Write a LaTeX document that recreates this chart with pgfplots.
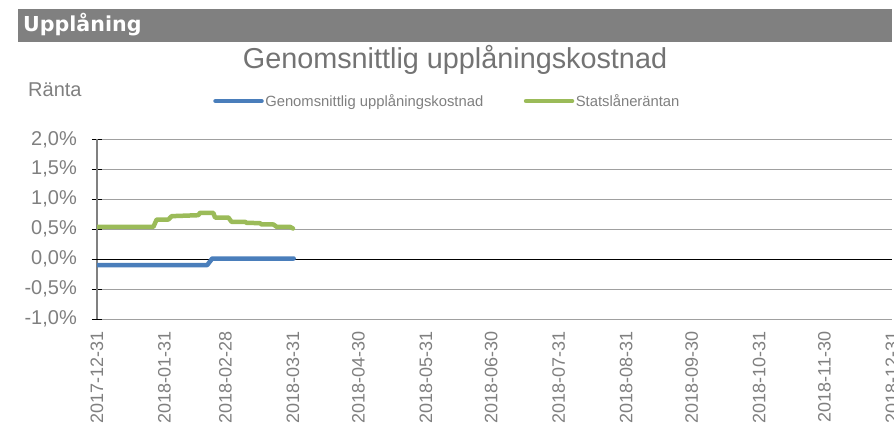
\documentclass[border=0pt]{standalone}
\usepackage{pgfplots}
\pgfplotsset{compat=1.18}
\usepackage{fontspec}
\setmainfont{Liberation Sans}
\newfontfamily\hdrfont{DejaVu Sans}
\definecolor{serblue}{HTML}{4A7EBB}
\definecolor{sergreen}{HTML}{9BBB59}
\definecolor{txtgray}{HTML}{7F7F7F}
\definecolor{titlegray}{HTML}{737373}
\definecolor{gridgray}{HTML}{A0A0A0}
\definecolor{hdrgray}{HTML}{808080}
\begin{document}
\begin{tikzpicture}
\useasboundingbox (0pt,0pt) rectangle (894pt,426pt);
\clip (0pt,0pt) rectangle (894pt,426pt);
\fill[hdrgray] (18pt,384.3pt) rectangle (892pt,417pt);
\node[anchor=base west, inner sep=0pt, text=white, font=\hdrfont\bfseries\fontsize{20.6}{22}\selectfont] at (23pt,394.3pt) {Upplåning};
\node[anchor=base, inner sep=0pt, text=titlegray, font=\fontsize{28.8}{32}\selectfont] at (455pt,357pt) {Genomsnittlig upplåningskostnad};
\node[anchor=base west, inner sep=0pt, text=txtgray, font=\fontsize{20}{24}\selectfont] at (28pt,329pt) {Ränta};
\begin{axis}[
  at={(97pt,107pt)}, anchor=south west,
  width=795pt, height=179.7pt, scale only axis,
  xmin=0, xmax=365, ymin=-1, ymax=2,
  xtick={0,31,59,90,120,151,181,212,243,273,304,334,365},
  xticklabels={2017-12-31,2018-01-31,2018-02-28,2018-03-31,2018-04-30,2018-05-31,2018-06-30,2018-07-31,2018-08-31,2018-09-30,2018-10-31,2018-11-30,2018-12-31},
  ytick={-1,-0.5,0,0.5,1,1.5,2},
  yticklabels={{-1,0\%},{-0,5\%},{0,0\%},{0,5\%},{1,0\%},{1,5\%},{2,0\%}},
  ymajorgrids, grid style={gridgray, line width=0.9pt},
  axis y line*=left,
  x axis line style={draw=none},
  y axis line style={draw=gray, line width=1.3pt, -},
  ytick align=center, major tick length=10pt,
  ytick style={black, line width=1pt},
  xtick style={draw=none},
  extra y ticks={0}, extra y tick labels={},
  extra y tick style={grid style={black, line width=1.1pt}},
  yticklabel style={font=\fontsize{20}{24}\selectfont, text=txtgray, inner sep=0pt, xshift=-15pt},
  xticklabel style={font=\fontsize{18}{21}\selectfont, text=txtgray, yshift=-12.5pt, rotate=90, anchor=east, inner sep=0pt},
  legend columns=2,
  legend style={at={(axis description cs:0.146,1.213)}, anchor=west, draw=none, fill=none,
    inner sep=0pt, font=\fontsize{14.8}{18}\selectfont, text=txtgray,
    nodes={inner sep=1.5pt},
    /tikz/every even column/.append style={column sep=39pt}},
  legend image code/.code={\draw[#1, line cap=round] (0pt,0pt) -- (46pt,0pt);},
]
\addplot[serblue, line width=4.5pt, line join=round, line cap=round] coordinates {
(0,-0.10) (50.6,-0.10) (52.9,0.01) (90.3,0.01)};
\addlegendentry{Genomsnittlig upplåningskostnad}
\addplot[sergreen, line width=4.5pt, line join=round, line cap=round] coordinates {
(0,0.539) (25.9,0.539) (27.4,0.661) (32.8,0.661) (34.3,0.717) (46.5,0.733) (47.3,0.772) (53.4,0.772) (54.2,0.694) (60.3,0.694) (61.8,0.622) (68,0.622) (68.7,0.606) (74.8,0.600) (75.6,0.578) (81,0.578) (82.5,0.539) (88.6,0.539) (90,0.511)};
\addlegendentry{Statslåneräntan}
\end{axis}
\end{tikzpicture}
\end{document}
